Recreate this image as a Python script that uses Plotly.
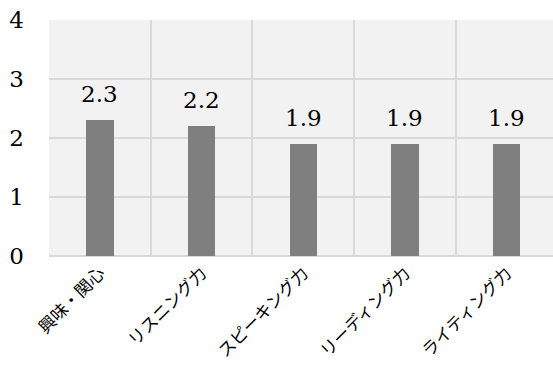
import plotly.graph_objects as go

categories = ["興味・関心", "リスニング力", "スピーキング力", "リーディング力", "ライティング力"]
values = [2.3, 2.2, 1.9, 1.9, 1.9]
y_ticks = [0, 1, 2, 3, 4]

SERIF = "DejaVu Serif, Liberation Serif, serif"

fig = go.Figure()
fig.add_trace(go.Bar(
    x=categories, y=values, width=0.27,
    marker=dict(color="#7f7f7f", line=dict(width=0)),
    hoverinfo="skip",
))

for c, v in zip(categories, values):
    fig.add_annotation(
        x=c, y=v, text=f"{v:.1f}", showarrow=False,
        xref="x", yref="y", yanchor="bottom", yshift=11,
        font=dict(family=SERIF, size=23, color="#000000"),
    )

fig.update_layout(
    width=553, height=365,
    margin=dict(l=49, r=0, t=20, b=109),
    paper_bgcolor="#ffffff",
    plot_bgcolor="#f2f2f2",
    showlegend=False,
    bargap=0,
    xaxis=dict(
        type="category",
        range=[-0.5, 4.456],
        tickson="boundaries",
        showgrid=True, gridcolor="#d9d9d9", gridwidth=1.5,
        ticks="", tickangle=-45,
        ticklabelstandoff=3,
        tickfont=dict(family="Noto Sans CJK JP", size=17, color="#000000"),
        showline=False, zeroline=False, automargin=False,
    ),
    yaxis=dict(
        range=[0, 4], tickvals=y_ticks, ticktext=[str(t) for t in y_ticks],
        showgrid=True, gridcolor="#d9d9d9", gridwidth=1.5,
        zeroline=True, zerolinecolor="#d9d9d9", zerolinewidth=1.5,
        ticks="", ticklabelstandoff=24,
        tickfont=dict(family=SERIF, size=23, color="#000000"),
        showline=False, automargin=False,
    ),
)

fig.write_html("out.html")
